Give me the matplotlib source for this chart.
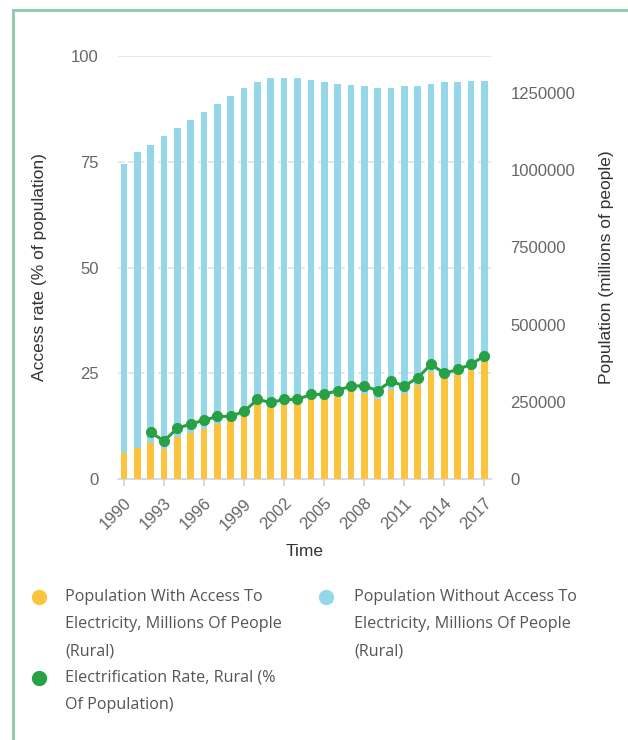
import matplotlib.pyplot as plt
from matplotlib.lines import Line2D

# rural electricity access, 1990-2017
years = list(range(1990, 2018))
with_access = [85200, 99400, 115600, 98100, 135000, 148000, 160900, 178100, 193300, 204000,
               242900, 232200, 242900, 245100, 258100, 260000, 266500, 284000, 275300, 260000,
               288200, 275300, 304400, 347500, 326100, 335800, 353000, 378900]
without_access = [934800, 957300, 966000, 1010500, 999400, 1013500, 1026600, 1036300, 1047000, 1062200,
                  1040500, 1064100, 1053400, 1051200, 1034000, 1023400, 1012600, 990900, 995200, 1006200,
                  978000, 995200, 966100, 931600, 957300, 947600, 934800, 908900]
rate_years = list(range(1992, 2018))
rate = [11.0, 9.0, 12.0, 13.0, 13.9, 14.8, 14.8, 16.0, 18.8, 18.1, 18.8, 18.8, 20.0,
        20.0, 20.9, 22.0, 22.0, 20.9, 23.1, 22.0, 23.9, 27.1, 25.0, 25.9, 27.1, 29.1]

pct_ticks = [0, 25, 50, 75, 100]
pop_ticks = [0, 250000, 500000, 750000, 1000000, 1250000]
year_ticks = list(range(1990, 2018, 3))

legend_items = [
    ("#fcc33c", ["Population With Access To", "Electricity, Millions Of People", "(Rural)"], 39, 65, 597),
    ("#93d7e8", ["Population Without Access To", "Electricity, Millions Of People", "(Rural)"], 326, 354, 597),
    ("#27a046", ["Electrification Rate, Rural (%", "Of Population)"], 39, 65, 678),
]

YELLOW = "#fcc33c"
BLUE = "#93d7e8"
GREEN = "#27a046"
TICK_COL = "#666666"
TITLE_COL = "#333333"

W, H = 628, 740
fig = plt.figure(figsize=(W / 100, H / 100), dpi=100)
fig.patch.set_facecolor("white")

def fx(px):
    return px / W

def fy(px):
    return 1 - px / H

ax = fig.add_axes([fx(118), fy(479), fx(491) - fx(118), fy(56) - fy(479)])
ax2 = ax.twinx()

# percent axis (left) with grid
ax.set_xlim(1989.55, 2017.5)
ax.set_ylim(0, 100)
ax.set_yticks(pct_ticks)
ax.set_yticklabels([str(t) for t in pct_ticks])
for t in pct_ticks[1:]:
    if t == 100:
        ax.axhline(t, color="#e3e3e3", lw=1.2, zorder=0)
    else:
        ax.axhline(t, color="#e3e3e3", lw=1.2, ls=(0, (4, 2)), zorder=0)
for s in ["top", "right", "left"]:
    ax.spines[s].set_visible(False)
ax.spines["bottom"].set_color("#ccd6eb")
ax.spines["bottom"].set_linewidth(1.2)
ax.tick_params(axis="y", length=0, pad=14, labelsize=12, labelcolor=TICK_COL)
ax.set_xticks(year_ticks)
ax.set_xticklabels([str(y) for y in year_ticks], rotation=45, ha="right",
                   rotation_mode="anchor")
ax.tick_params(axis="x", length=5, width=1.2, color="#ccd6eb", pad=7,
               labelsize=12, labelcolor=TICK_COL)
for lab in ax.get_xticklabels() + ax.get_yticklabels():
    lab.set_fontfamily("Liberation Sans")

# population axis (right) with stacked bars
ax2.set_ylim(0, 1369000)
ax2.bar(years, with_access, width=0.5, color=YELLOW, zorder=2)
ax2.bar(years, without_access, width=0.5, bottom=with_access, color=BLUE, zorder=2)
ax2.set_yticks(pop_ticks)
ax2.set_yticklabels([str(t) for t in pop_ticks])
ax2.tick_params(axis="y", length=0, pad=14, labelsize=12, labelcolor=TICK_COL)
for lab in ax2.get_yticklabels():
    lab.set_fontfamily("Liberation Sans")
for s in ax2.spines.values():
    s.set_visible(False)

# rate line on top, in percent units
ax2.plot(rate_years, rate, color=GREEN, lw=2.2, marker="o", ms=7,
         transform=ax.transData, zorder=5)

fig.text(fx(40), fy(267), "Access rate (% of population)", rotation=90,
         ha="center", va="center", fontsize=12.5, color=TITLE_COL,
         family="Liberation Sans")
fig.text(fx(607), fy(267), "Population (millions of people)", rotation=90,
         ha="center", va="center", fontsize=12.5, color=TITLE_COL,
         family="Liberation Sans")
fig.text(fx(305), fy(551), "Time", ha="center", va="center", fontsize=12.5,
         color=TITLE_COL, family="Liberation Sans")

# legend
for col, lines, cx, tx, ty in legend_items:
    fig.add_artist(Line2D([fx(cx)], [fy(ty)], marker="o", ms=10, color=col,
                          transform=fig.transFigure))
    for i, line in enumerate(lines):
        fig.text(fx(tx), fy(ty + 27 * i), line, ha="left", va="center",
                 fontsize=11.6, color="#555555", family="Open Sans")

# frame
fig.add_artist(Line2D([fx(12.5), fx(12.5)], [fy(10), 0], color="#8ec9a9", lw=2,
                      transform=fig.transFigure))
fig.add_artist(Line2D([fx(12.5), 1], [fy(10), fy(10)], color="#8ec9a9", lw=2,
                      transform=fig.transFigure))

fig.savefig("out.png", dpi=100)
